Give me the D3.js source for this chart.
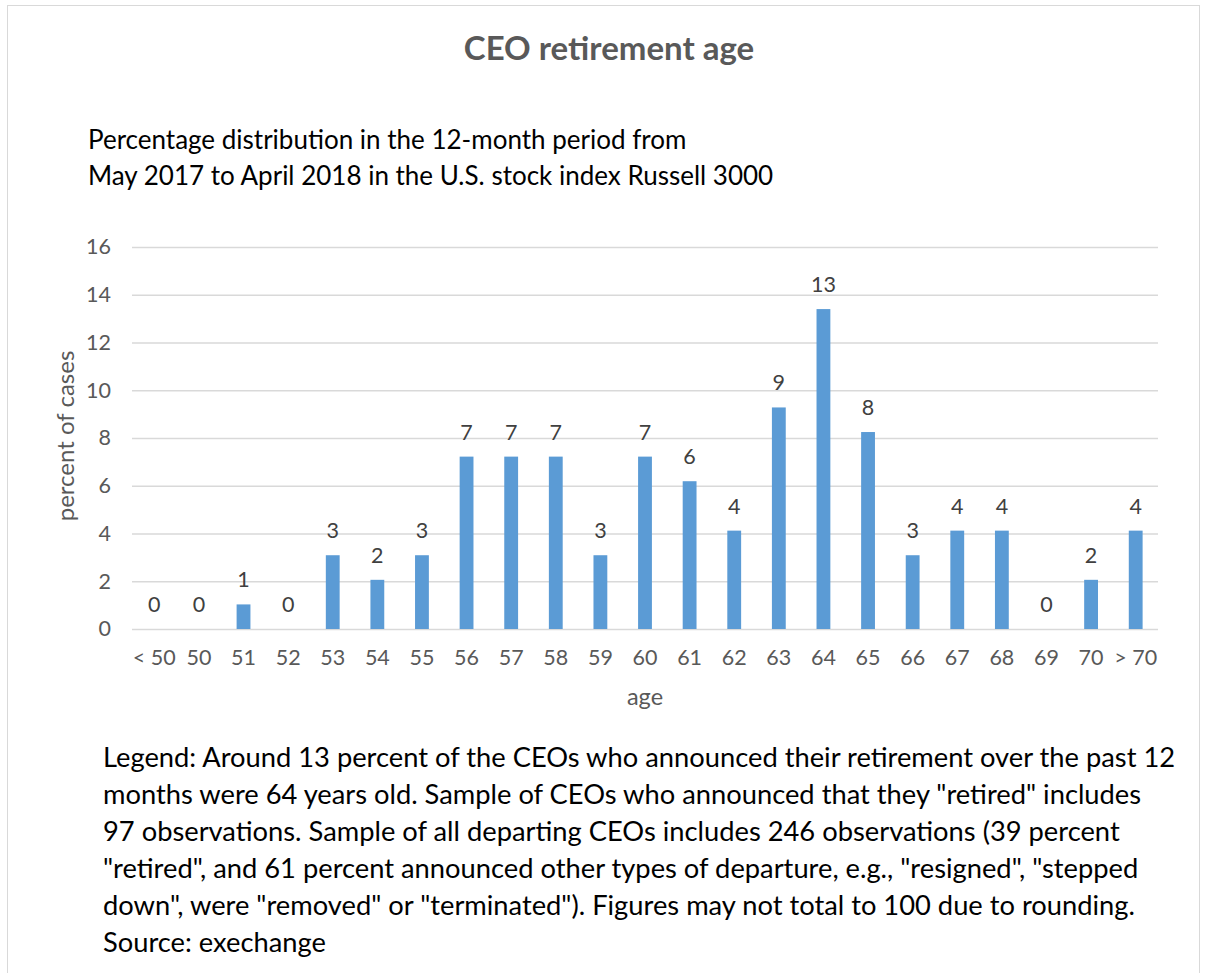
<!DOCTYPE html>
<html>
<head>
<meta charset="utf-8">
<script src="https://cdn.jsdelivr.net/npm/d3@7"></script>
<style>
  body { margin: 0; background: #fff; }
  svg text { font-family: Lato, "Noto Sans", sans-serif; }
</style>
</head>
<body>
<script>
// chart values (percent of retiring CEOs by age)
const ages = ["< 50", "50", "51", "52", "53", "54", "55", "56", "57", "58", "59", "60",
              "61", "62", "63", "64", "65", "66", "67", "68", "69", "70", "> 70"];
const percents = [0, 0, 1.03, 0, 3.09, 2.06, 3.09, 7.22, 7.22, 7.22, 3.09, 7.22,
                  6.19, 4.12, 9.28, 13.4, 8.25, 3.09, 4.12, 4.12, 0, 2.06, 4.12];
const yTicks = [0, 2, 4, 6, 8, 10, 12, 14, 16];

const subtitleLines = [
  "Percentage distribution in the 12-month period from",
  "May 2017 to April 2018 in the U.S. stock index Russell 3000"
];
const noteLines = [
  "Legend: Around 13 percent of the CEOs who announced their retirement over the past 12",
  "months were 64 years old. Sample of CEOs who announced that they \"retired\" includes",
  "97 observations. Sample of all departing CEOs includes 246 observations (39 percent",
  "\"retired\", and 61 percent announced other types of departure, e.g., \"resigned\", \"stepped",
  "down\", were \"removed\" or \"terminated\"). Figures may not total to 100 due to rounding.",
  "Source: exechange"
];

const W = 1205, H = 973;
const svg = d3.select("body").append("svg")
  .attr("width", W).attr("height", H);

// outer frame
svg.append("rect")
  .attr("x", 7.5).attr("y", 5.5)
  .attr("width", 1192).attr("height", 980)
  .attr("fill", "none").attr("stroke", "#d9d9d9");

svg.append("text")
  .attr("x", 609).attr("y", 60)
  .attr("text-anchor", "middle")
  .attr("font-size", 33).attr("font-weight", "bold")
  .attr("fill", "#595959")
  .text("CEO retirement age");

svg.selectAll(".sub").data(subtitleLines).join("text")
  .attr("class", "sub")
  .attr("x", 88).attr("y", (d, i) => 149 + i * 36)
  .attr("font-size", 26).attr("fill", "#000")
  .text(d => d);

const plotL = 132, plotR = 1158, plotT = 247, plotB = 629;

const x = d3.scaleBand().domain(ages).range([plotL, plotR]).paddingInner(0.69).paddingOuter(0.345);
const y = d3.scaleLinear().domain([0, 16]).range([plotB, plotT]);

// gridlines
svg.append("g")
  .selectAll("line").data(yTicks).join("line")
  .attr("x1", plotL).attr("x2", plotR)
  .attr("y1", d => y(d) + 0.5).attr("y2", d => y(d) + 0.5)
  .attr("stroke", "#d9d9d9").attr("stroke-width", 1.3);

// y axis labels
const yAxis = svg.append("g")
  .attr("transform", `translate(${plotL - 21},0)`)
  .call(d3.axisLeft(y).tickValues(yTicks).tickSize(0).tickPadding(0));
yAxis.select(".domain").remove();
yAxis.selectAll("text")
  .attr("font-size", 21.5).attr("fill", "#595959")
  .attr("font-family", "Lato, sans-serif");

// bars
svg.append("g")
  .selectAll("rect").data(percents).join("rect")
  .attr("x", (d, i) => x(ages[i]))
  .attr("width", x.bandwidth())
  .attr("y", d => y(d))
  .attr("height", d => plotB - y(d))
  .attr("fill", "#5b9bd5");

// data labels
svg.append("g")
  .selectAll("text").data(percents).join("text")
  .attr("x", (d, i) => x(ages[i]) + x.bandwidth() / 2)
  .attr("y", d => y(d) - 17)
  .attr("text-anchor", "middle")
  .attr("font-size", 21.5).attr("fill", "#404040")
  .text(d => Math.round(d));

// x axis labels
const xAxis = svg.append("g")
  .attr("transform", `translate(0,${plotB + 21})`)
  .call(d3.axisBottom(x).tickSize(0).tickPadding(0));
xAxis.select(".domain").remove();
xAxis.selectAll("text")
  .attr("font-size", 21.5).attr("fill", "#595959")
  .attr("font-family", "Lato, sans-serif");

svg.append("text")
  .attr("x", (plotL + plotR) / 2).attr("y", 705)
  .attr("text-anchor", "middle")
  .attr("font-size", 23.5).attr("fill", "#595959")
  .text("age");

svg.append("text")
  .attr("transform", `translate(74,${(plotT + plotB) / 2 - 2}) rotate(-90)`)
  .attr("text-anchor", "middle")
  .attr("font-size", 24).attr("fill", "#595959")
  .text("percent of cases");

svg.selectAll(".note").data(noteLines).join("text")
  .attr("class", "note")
  .attr("x", 103).attr("y", (d, i) => 767 + i * 37)
  .attr("font-size", 27.3).attr("fill", "#000")
  .text(d => d);
</script>
</body>
</html>
